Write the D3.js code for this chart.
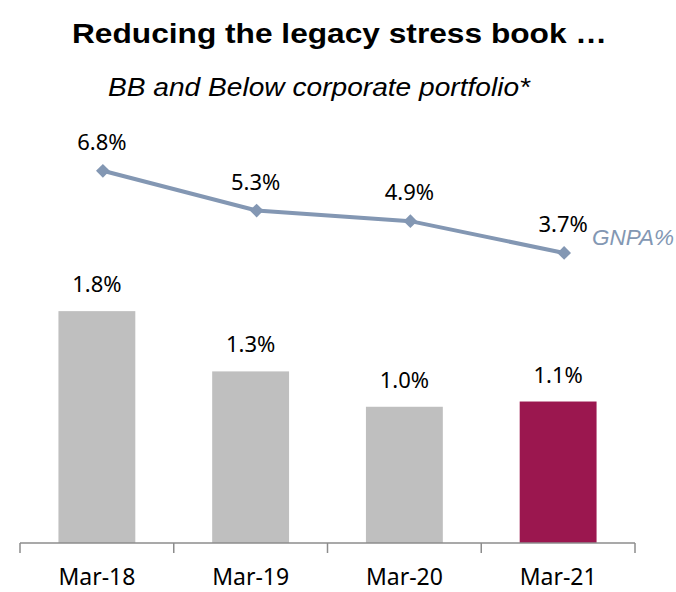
<!DOCTYPE html>
<html>
<head>
<meta charset="utf-8">
<script src="https://cdn.jsdelivr.net/npm/d3@7"></script>
<style>
  body { margin: 0; background: #fff; }
  svg { display: block; }
</style>
</head>
<body>
<div id="chart"></div>
<script>
const categories = ["Mar-18", "Mar-19", "Mar-20", "Mar-21"];
const stressBook = [1.77, 1.31, 1.04, 1.08];
const gnpa = [6.8, 5.3, 4.9, 3.7];
const barColors = ["#BFBFBF", "#BFBFBF", "#BFBFBF", "#9B174F"];

const width = 676, height = 592;
const baseY = 543;
const lineColor = "#8397B3";
const numFont = "'Noto Sans', sans-serif";

let svg = d3.select("#chart")
  .append("svg")
  .attr("width", width)
  .attr("height", height);

// titles, stretched a little to match the condensed-looking original
svg.append("text")
  .attr("x", 72)
  .attr("y", 43)
  .attr("textLength", 535)
  .attr("lengthAdjust", "spacingAndGlyphs")
  .style("font-family", "'Liberation Sans', Arial, sans-serif")
  .style("font-weight", "bold")
  .style("font-size", "28px")
  .text("Reducing the legacy stress book …");

svg.append("text")
  .attr("x", 108)
  .attr("y", 96)
  .attr("textLength", 422)
  .attr("lengthAdjust", "spacingAndGlyphs")
  .style("font-family", "'Liberation Sans', Arial, sans-serif")
  .style("font-style", "italic")
  .style("font-size", "26px")
  .text("BB and Below corporate portfolio*");

let x = d3.scaleBand()
  .domain(categories)
  .range([20, 635])
  .paddingInner(0.5)
  .paddingOuter(0.25);

let y = d3.scaleLinear().domain([0, 2]).range([baseY, baseY - 262]);
let y2 = d3.scaleLinear().domain([0, 8]).range([351, 139]);

// bars
svg.append("g")
  .selectAll("rect")
  .data(stressBook)
  .enter().append("rect")
  .attr("x", (d, i) => x(categories[i]))
  .attr("y", d => y(d))
  .attr("width", x.bandwidth())
  .attr("height", d => baseY - y(d))
  .attr("fill", (d, i) => barColors[i]);

svg.append("g")
  .selectAll("text")
  .data(stressBook)
  .enter().append("text")
  .attr("x", (d, i) => x(categories[i]) + x.bandwidth() / 2)
  .attr("y", d => y(d) - 19)
  .attr("text-anchor", "middle")
  .style("font-family", numFont)
  .style("font-size", "22px")
  .text(d => d.toFixed(1) + "%");

// axis line with boundary ticks
let axis = svg.append("g").attr("transform", `translate(0,${baseY})`);
axis.append("line")
  .attr("x1", 20).attr("x2", 635)
  .attr("stroke", "#8c8c8c").attr("stroke-width", 1.5);
axis.selectAll(".tick-b")
  .data(d3.range(categories.length + 1))
  .enter().append("line")
  .attr("x1", i => 20 + i * x.step())
  .attr("x2", i => 20 + i * x.step())
  .attr("y1", 0).attr("y2", 10)
  .attr("stroke", "#8c8c8c").attr("stroke-width", 1.5);

let labels = svg.append("g")
  .attr("transform", `translate(0,${baseY})`)
  .call(d3.axisBottom(x).tickSize(0).tickPadding(26));
labels.select(".domain").remove();
labels.selectAll("text")
  .style("font-family", numFont)
  .style("font-size", "23px")
  .attr("fill", "#000");

// GNPA line
const lx = (d, i) => x(categories[i]) + x.bandwidth() / 2 + 6;

svg.append("path")
  .datum(gnpa)
  .attr("fill", "none")
  .attr("stroke", lineColor)
  .attr("stroke-width", 4)
  .attr("d", d3.line().x(lx).y(d => y2(d)));

svg.append("g")
  .selectAll("path")
  .data(gnpa)
  .enter().append("path")
  .attr("d", d3.symbol().type(d3.symbolSquare).size(95))
  .attr("transform", (d, i) => `translate(${lx(d, i)},${y2(d)}) rotate(45)`)
  .attr("fill", lineColor);

svg.append("g")
  .selectAll("text")
  .data(gnpa)
  .enter().append("text")
  .attr("x", (d, i) => lx(d, i) - 1)
  .attr("y", d => y2(d) - 21)
  .attr("text-anchor", "middle")
  .style("font-family", numFont)
  .style("font-size", "22px")
  .text(d => d.toFixed(1) + "%");

svg.append("text")
  .attr("x", 592)
  .attr("y", 245)
  .style("font-family", "'Liberation Sans', Arial, sans-serif")
  .style("font-style", "italic")
  .style("font-size", "22.5px")
  .attr("fill", lineColor)
  .text("GNPA%");
</script>
</body>
</html>
